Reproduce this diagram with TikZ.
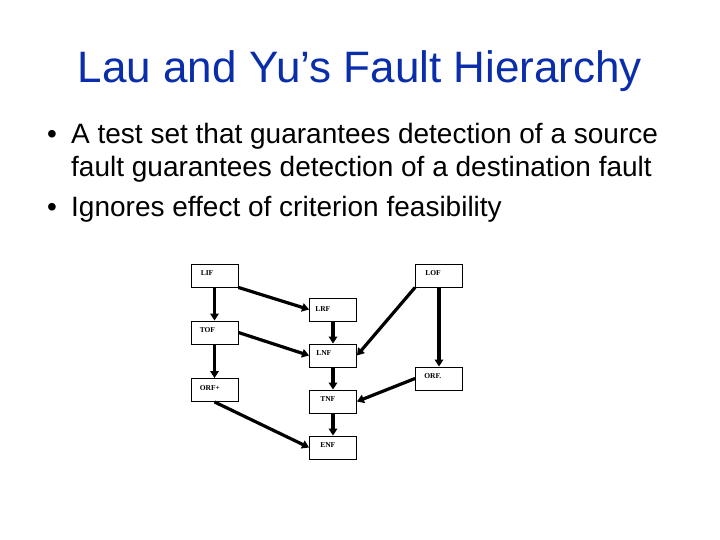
\documentclass[tikz,border=0pt]{standalone}
\usepackage{fontspec}
\setmainfont{Liberation Sans}
\newfontfamily\boxfont{Liberation Serif}
\usetikzlibrary{arrows.meta}
\definecolor{titleblue}{RGB}{10,45,170}
\tikzset{
  fbox/.style={draw=black, line width=0.9pt, fill=white, minimum width=47pt, minimum height=23pt, inner sep=0pt},
  lbl/.style={anchor=base west, inner sep=0pt, font=\boxfont\bfseries\fontsize{7.5}{8}\selectfont},
  arr/.style={line width=3.2pt, -{Triangle[length=7pt,width=8.5pt]}},
  bul/.style={anchor=base west, inner sep=0pt, font=\fontsize{28}{33}\selectfont},
}
\begin{document}
\begin{tikzpicture}[x=1pt,y=-1pt]
\useasboundingbox (0,0) rectangle (720,540);
\fill[white] (0,0) rectangle (720,540);
% title
\node[anchor=base, inner sep=0pt, text=titleblue, font=\fontsize{44}{50}\selectfont] (title) at (360,83) {Lau and Yu’s Fault Hierarchy};
% bullets
\node[bul, anchor=base] (b1) at (52,144) {•};
\node[bul] (t1) at (71,144) {A test set that guarantees detection of a source};
\node[bul] (t2) at (71,177) {fault guarantees detection of a destination fault};
\node[bul, anchor=base] (b2) at (52,216) {•};
\node[bul] (t3) at (71,216) {Ignores effect of criterion feasibility};
% boxes
\node[fbox] (LIF) at (214.5,275.5) {};
\node[fbox] (TOF) at (214.5,332.5) {};
\node[fbox] (ORFp) at (214.5,390) {};
\node[fbox] (LRF) at (333,309.5) {};
\node[fbox] (LNF) at (333,355.5) {};
\node[fbox] (TNF) at (333,401.5) {};
\node[fbox] (ENF) at (333,447.5) {};
\node[fbox] (LOF) at (439,275.5) {};
\node[fbox] (ORFd) at (439,378.5) {};
% labels
\node[lbl] (LIFt) at ([shift={(10,12)}]LIF.north west) {LIF};
\node[lbl] (TOFt) at ([shift={(9,12)}]TOF.north west) {TOF};
\node[lbl] (ORFpt) at ([shift={(9,12)}]ORFp.north west) {ORF+};
\node[lbl] (LRFt) at ([shift={(6,14)}]LRF.north west) {LRF};
\node[lbl] (LNFt) at ([shift={(7,12)}]LNF.north west) {LNF};
\node[lbl] (TNFt) at ([shift={(11,12)}]TNF.north west) {TNF};
\node[lbl] (ENFt) at ([shift={(11,12)}]ENF.north west) {ENF};
\node[lbl] (LOFt) at ([shift={(10,12)}]LOF.north west) {LOF};
\node[lbl] (ORFdt) at ([shift={(9,12)}]ORFd.north west) {ORF.};
% arrows
\draw[arr] (LIF.south) -- (TOF.north);
\draw[arr] (TOF.south) -- (ORFp.north);
\draw[arr] (LIF.south east) -- (LRF.west);
\draw[arr] (TOF.east) -- (LNF.west);
\draw[arr] (ORFp.south) -- (ENF.west);
\draw[arr] (LRF.south) -- (LNF.north);
\draw[arr] (LNF.south) -- (TNF.north);
\draw[arr] (TNF.south) -- (ENF.north);
\draw[arr] (LOF.south west) -- (LNF.east);
\draw[arr] (LOF.south) -- (ORFd.north);
\draw[arr] (ORFd.west) -- (TNF.east);
\end{tikzpicture}
\end{document}
